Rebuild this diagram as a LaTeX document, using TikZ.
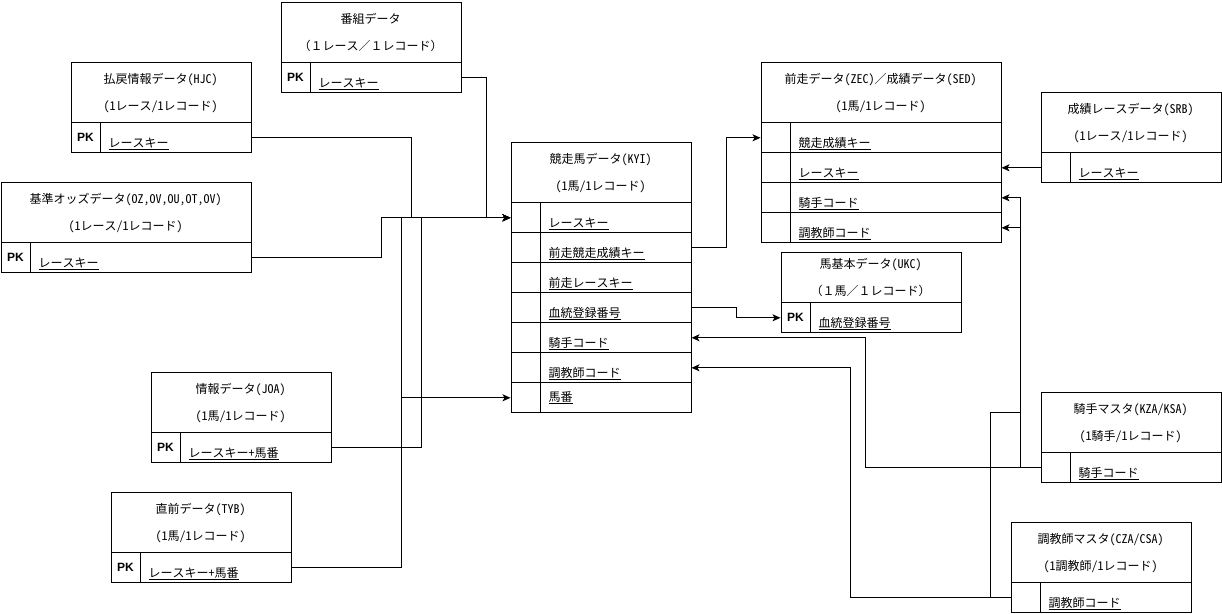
\documentclass[tikz,border=0pt]{standalone}
\usepackage{fontspec}
\setmainfont{Noto Sans Mono CJK JP}
\newfontfamily\pkfont{Liberation Sans}
\usetikzlibrary{arrows.meta}
\tikzset{
  frame/.style={draw, line width=1pt, inner sep=0pt, anchor=north west},
  ttl/.style={inner sep=0pt, anchor=base, font=\fontsize{12pt}{14pt}\selectfont},
  fld/.style={inner sep=0pt, anchor=base west, font=\fontsize{12pt}{14pt}\selectfont},
  pk/.style={inner sep=0pt, font=\pkfont\bfseries\fontsize{12pt}{14pt}\selectfont},
  ln/.style={line width=1pt},
  conn/.style={line width=1pt, -{Stealth[length=8pt,width=7pt,inset=2pt]}}
}
\newcommand\ertable[7]{%
  \node[frame, minimum width=#4pt, minimum height=#5pt] (#1) at (#2,#3) {};
  \node[ttl] (#1-t1) at ({#2+#4/2},{#3+#5/2-8.5}) {#6};
  \node[ttl] (#1-t2) at ({#2+#4/2},{#3+#5/2+18}) {#7};
}
\newcommand\erfield[7]{%
  \node[frame, minimum width=#4pt, minimum height=30pt] (#1) at (#2,#3) {};
  \draw[ln] ({#2+30},#3) -- ++(0,30);
  \node[pk] (#1-k) at ({#2+15},{#3+15}) {#5};
  \node[fld] (#1-f) at ({#2+38},{#3+#7}) {#6};
  \draw[ln] ([yshift=-2pt]#1-f.base west) -- ([yshift=-2pt]#1-f.base east);
}
\begin{document}
\begin{tikzpicture}[x=1pt,y=-1pt]
\useasboundingbox (0,0) rectangle (1222,613);
\begin{scope}[shift={(0.5,0.3)}]
% tables
\ertable{bangumi}{280}{2}{180}{60}{番組データ}{（１レース／１レコード）}
\erfield{bangumi-r}{280}{62}{180}{PK}{レースキー}{25}

\ertable{hjc}{70}{62}{180}{60}{払戻情報データ(HJC)}{(1レース/1レコード)}
\erfield{hjc-r}{70}{122}{180}{PK}{レースキー}{25}

\ertable{kijun}{0}{182}{250}{60}{基準オッズデータ(OZ,OV,OU,OT,OV)}{(1レース/1レコード)}
\erfield{kijun-r}{0}{242}{250}{PK}{レースキー}{25}

\ertable{kyi}{510}{142}{180}{60}{競走馬データ(KYI)}{(1馬/1レコード)}
\erfield{kyi-r1}{510}{202}{180}{}{レースキー}{25}
\erfield{kyi-r2}{510}{232}{180}{}{前走競走成績キー}{25}
\erfield{kyi-r3}{510}{262}{180}{}{前走レースキー}{25}
\erfield{kyi-r4}{510}{292}{180}{}{血統登録番号}{25}
\erfield{kyi-r5}{510}{322}{180}{}{騎手コード}{25}
\erfield{kyi-r6}{510}{352}{180}{}{調教師コード}{25}
\erfield{kyi-r7}{510}{382}{180}{}{馬番}{19}

\ertable{zec}{760}{62}{240}{60}{前走データ(ZEC)／成績データ(SED)}{(1馬/1レコード)}
\erfield{zec-r1}{760}{122}{240}{}{競走成績キー}{25}
\erfield{zec-r2}{760}{152}{240}{}{レースキー}{25}
\erfield{zec-r3}{760}{182}{240}{}{騎手コード}{25}
\erfield{zec-r4}{760}{212}{240}{}{調教師コード}{25}

\ertable{srb}{1040}{92}{180}{60}{成績レースデータ(SRB)}{(1レース/1レコード)}
\erfield{srb-r}{1040}{152}{180}{}{レースキー}{25}

\ertable{ukc}{780}{252}{180}{50}{馬基本データ(UKC)}{（１馬／１レコード）}
\erfield{ukc-r}{780}{302}{180}{PK}{血統登録番号}{25}

\ertable{joa}{150}{372}{180}{60}{情報データ(JOA)}{(1馬/1レコード)}
\erfield{joa-r}{150}{432}{180}{PK}{レースキー+馬番}{25}

\ertable{tyb}{110}{492}{180}{60}{直前データ(TYB)}{(1馬/1レコード)}
\erfield{tyb-r}{110}{552}{180}{PK}{レースキー+馬番}{25}

\ertable{ksa}{1040}{392}{180}{60}{騎手マスタ(KZA/KSA)}{(1騎手/1レコード)}
\erfield{ksa-r}{1040}{452}{180}{}{騎手コード}{25}

\ertable{csa}{1010}{522}{180}{60}{調教師マスタ(CZA/CSA)}{(1調教師/1レコード)}
\erfield{csa-r}{1010}{582}{180}{}{調教師コード}{25}

% connectors
\draw[conn] (bangumi-r.east) -- ++(25,0) |- (kyi-r1.west);
\draw[conn] (hjc-r.east) -- ++(160,0) |- (kyi-r1.west);
\draw[conn] (kijun-r.east) -- ++(130,0) |- (kyi-r1.west);
\draw[conn] (joa-r.east) -- ++(90,0) |- (kyi-r1.west);
\draw[conn] (tyb-r.east) -- ++(110,0) |- (kyi-r1.west);
\draw[conn] (tyb-r.east) -- ++(110,0) |- (kyi-r7.west);
\draw[conn] (kyi-r2.east) -- ++(35,0) |- (zec-r1.west);
\draw[conn] (kyi-r4.east) -- ++(45,0) |- (ukc-r.west);
\draw[conn] (ksa-r.west) -- ++(-175,0) |- (kyi-r5.east);
\draw[conn] (csa-r.west) -- ++(-160,0) |- (kyi-r6.east);
\draw[conn] (srb-r.west) -- (zec-r2.east);
\draw[conn] (ksa-r.west) -- ++(-20,0) |- (zec-r3.east);
\draw[conn] (csa-r.west) -- ++(-20,0) -- ++(0,-185) -- ++(30,0) |- (zec-r4.east);
\end{scope}
\end{tikzpicture}
\end{document}
